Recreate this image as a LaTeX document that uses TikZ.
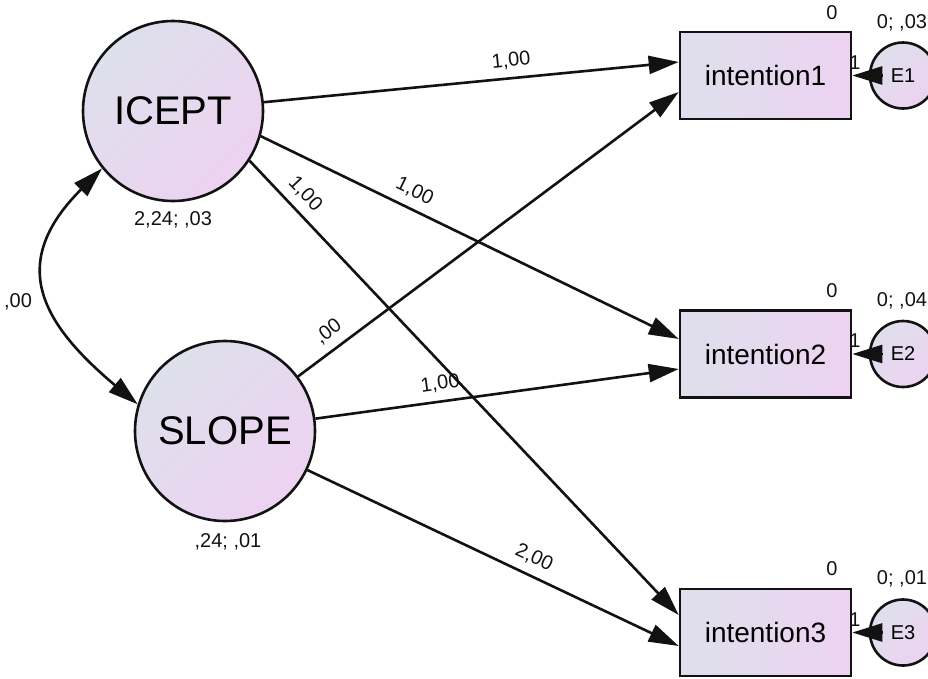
\documentclass[tikz,border=0pt]{standalone}
\usepackage{fontspec}
\setmainfont{Liberation Sans}
\usetikzlibrary{arrows.meta}
\definecolor{fillA}{RGB}{222,224,236}
\definecolor{fillB}{RGB}{237,210,241}
\definecolor{ink}{RGB}{18,18,18}

\begin{document}
\begin{tikzpicture}[x=1pt,y=-1pt,
  latent/.style={circle, draw=ink, line width=2.6pt, minimum size=180pt, inner sep=0pt,
    top color=fillA, bottom color=fillB, shading angle=45, font=\fontsize{40}{40}\selectfont},
  observed/.style={rectangle, draw=ink, line width=2.6pt, minimum width=171pt, minimum height=87pt,
    left color=fillA, right color=fillB, font=\fontsize{28}{28}\selectfont},
  errvar/.style={circle, draw=ink, line width=2.6pt, minimum size=66pt, inner sep=0pt,
    top color=fillA, bottom color=fillB, shading angle=45, font=\fontsize{20}{20}\selectfont},
  lbl/.style={font=\fontsize{20}{20}\selectfont, inner sep=1pt, text=ink},
  tipA/.tip={Triangle[length=30pt,width=18pt]},
  regpath/.style={draw=ink, line width=2.6pt, -tipA},
  plbl/.style={font=\fontsize{20}{20}\selectfont, text=ink, sloped, above, inner xsep=0pt, inner ysep=8pt},
]
\useasboundingbox (0,0) rectangle (928,678);

% latent growth factors
\node[latent] (ICEPT) at (173,111) {ICEPT};
\node[latent] (SLOPE) at (225,431) {SLOPE};

% observed indicators
\node[observed] (i1) at (765.5,75.5) {intention1};
\node[observed] (i2) at (765.5,354) {intention2};
\node[observed] (i3) at (765.5,632.5) {intention3};

% error terms
\node[errvar] (E1) at (903,75.5) {E1};
\node[errvar] (E2) at (903,354) {E2};
\node[errvar] (E3) at (903,632.5) {E3};

% factor means and variances
\node[lbl] (mI) at (173,220) {2,24; ,03};
\node[lbl] (mS) at (228,542) {,24; ,01};

% intercepts of the indicators
\node[lbl] (z1) at (832,13) {0};
\node[lbl] (z2) at (832,291) {0};
\node[lbl] (z3) at (832,569) {0};

% error means and variances
\node[lbl] (v1) at (902,23) {0; ,03};
\node[lbl] (v2) at (902,301) {0; ,04};
\node[lbl] (v3) at (902,579) {0; ,01};

% fixed error loadings
\node[lbl] (w1) at (855,62.5) {1};
\node[lbl] (w2) at (855,341) {1};
\node[lbl] (w3) at (855,619.5) {1};

% covariance between the factors
\draw[draw=ink, line width=2.6pt, tipA-tipA]
  (ICEPT.219) .. controls +(-93,93) and +(-100,-84) .. (SLOPE.163);
\node[lbl] (cov) at (18,302) {,00};

% intercept loadings
\draw[regpath] (ICEPT) -- ([yshift=13.5pt]i1.west)
  node[plbl, pos=0.6] {1,00};
\draw[regpath] (ICEPT.-16) -- ([yshift=15pt]i2.west)
  node[plbl, pos=0.35] {1,00};
\draw[regpath] (ICEPT.-33.5) -- ([yshift=17.5pt]i3.west)
  node[plbl, pos=0.10] {1,00};

% slope loadings
\draw[regpath] (SLOPE) -- ([yshift=-16.5pt]i1.west)
  node[plbl, pos=0.107] {,00};
\draw[regpath] (SLOPE) -- ([yshift=-15pt]i2.west)
  node[plbl, pos=0.35] {1,00};
\draw[regpath] (SLOPE) -- ([yshift=-13.5pt]i3.west)
  node[plbl, pos=0.59] {2,00};

% error paths
\draw[regpath, shorten <=21pt] (E1.center) -- (i1.east);
\draw[regpath, shorten <=21pt] (E2.center) -- (i2.east);
\draw[regpath, shorten <=21pt] (E3.center) -- (i3.east);
\end{tikzpicture}
\end{document}
